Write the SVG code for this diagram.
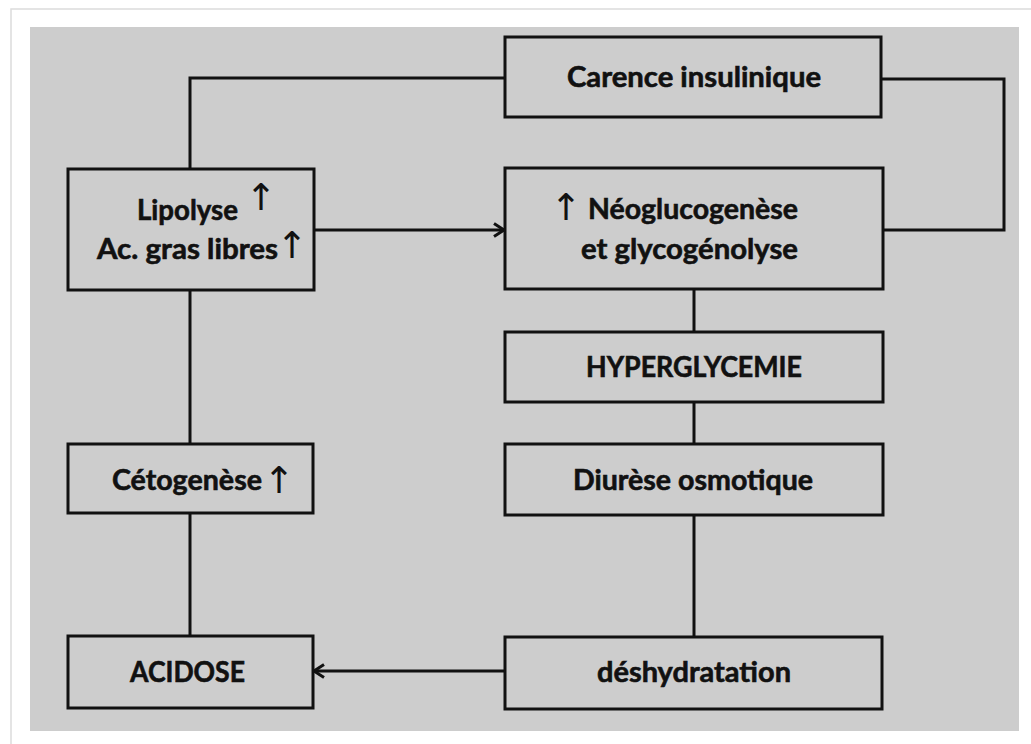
<svg xmlns="http://www.w3.org/2000/svg" width="1031" height="744" viewBox="0 0 1031 744">
<style>
.box{fill:none;stroke:#111;stroke-width:3}
.con{fill:none;stroke:#111;stroke-width:3}
.t{font-family:Lato,"Liberation Sans",sans-serif;font-weight:bold;font-size:28px;fill:#111;stroke:#111;stroke-width:0.6}
.up{font-family:"DejaVu Sans",sans-serif;font-weight:normal;font-size:37px;fill:#111;text-anchor:middle}
</style>
<defs>
<marker id="arr" markerWidth="14" markerHeight="16" refX="12" refY="8" orient="auto" markerUnits="userSpaceOnUse">
<path d="M2,1.5 L12,8 L2,14.5" fill="none" stroke="#111" stroke-width="3"/>
</marker>
</defs>
<rect x="0" y="0" width="1031" height="744" fill="#ffffff"/>
<rect x="11" y="9" width="1022" height="740" fill="#ffffff" stroke="#dcdcdc" stroke-width="1.5"/>
<rect x="30" y="27" width="989" height="704" fill="#cdcdcd"/>
<g id="connectors">
<polyline class="con" points="505,78 190,78 190,169"/>
<polyline class="con" points="881,79 1004,79 1004,230 883,230"/>
<line class="con" x1="314" y1="230" x2="504" y2="230" marker-end="url(#arr)"/>
<line class="con" x1="505" y1="671" x2="314" y2="671" marker-end="url(#arr)"/>
<line class="con" x1="190" y1="290" x2="190" y2="444"/>
<line class="con" x1="190" y1="513" x2="190" y2="636"/>
<line class="con" x1="694" y1="289" x2="694" y2="332"/>
<line class="con" x1="694" y1="402" x2="694" y2="444"/>
<line class="con" x1="694" y1="515" x2="694" y2="637"/>
</g>
<g id="carence">
<rect class="box" x="505" y="37" width="376" height="80"/>
<text class="t" x="567" y="87" textLength="254" lengthAdjust="spacingAndGlyphs">Carence insulinique</text>
</g>
<g id="lipolyse">
<rect class="box" x="68" y="169" width="246" height="121"/>
<text class="t" x="137" y="220" textLength="101" lengthAdjust="spacingAndGlyphs">Lipolyse</text>
<text class="up" x="261" y="210">↑</text>
<text class="t" x="97" y="259" textLength="181" lengthAdjust="spacingAndGlyphs">Ac. gras libres</text>
<text class="up" x="292" y="258">↑</text>
</g>
<g id="neoglucogenese">
<rect class="box" x="505" y="168" width="378" height="121"/>
<text class="up" x="566" y="220">↑</text>
<text class="t" x="588" y="219" textLength="210" lengthAdjust="spacingAndGlyphs">Néoglucogenèse</text>
<text class="t" x="581" y="259" textLength="217" lengthAdjust="spacingAndGlyphs">et glycogénolyse</text>
</g>
<g id="hyperglycemie">
<rect class="box" x="505" y="332" width="378" height="70"/>
<text class="t" x="586" y="377" textLength="216" lengthAdjust="spacingAndGlyphs">HYPERGLYCEMIE</text>
</g>
<g id="diurese">
<rect class="box" x="505" y="444" width="378" height="71"/>
<text class="t" x="573" y="490" textLength="240" lengthAdjust="spacingAndGlyphs">Diurèse osmotique</text>
</g>
<g id="cetogenese">
<rect class="box" x="68" y="444" width="245" height="69"/>
<text class="t" x="112" y="490" textLength="150" lengthAdjust="spacingAndGlyphs">Cétogenèse</text>
<text class="up" x="279" y="493">↑</text>
</g>
<g id="deshydratation">
<rect class="box" x="505" y="637" width="377" height="72"/>
<text class="t" x="597" y="682" textLength="194" lengthAdjust="spacingAndGlyphs">déshydratation</text>
</g>
<g id="acidose">
<rect class="box" x="68" y="636" width="245" height="72"/>
<text class="t" x="130" y="682" textLength="115" lengthAdjust="spacingAndGlyphs">ACIDOSE</text>
</g>
</svg>
